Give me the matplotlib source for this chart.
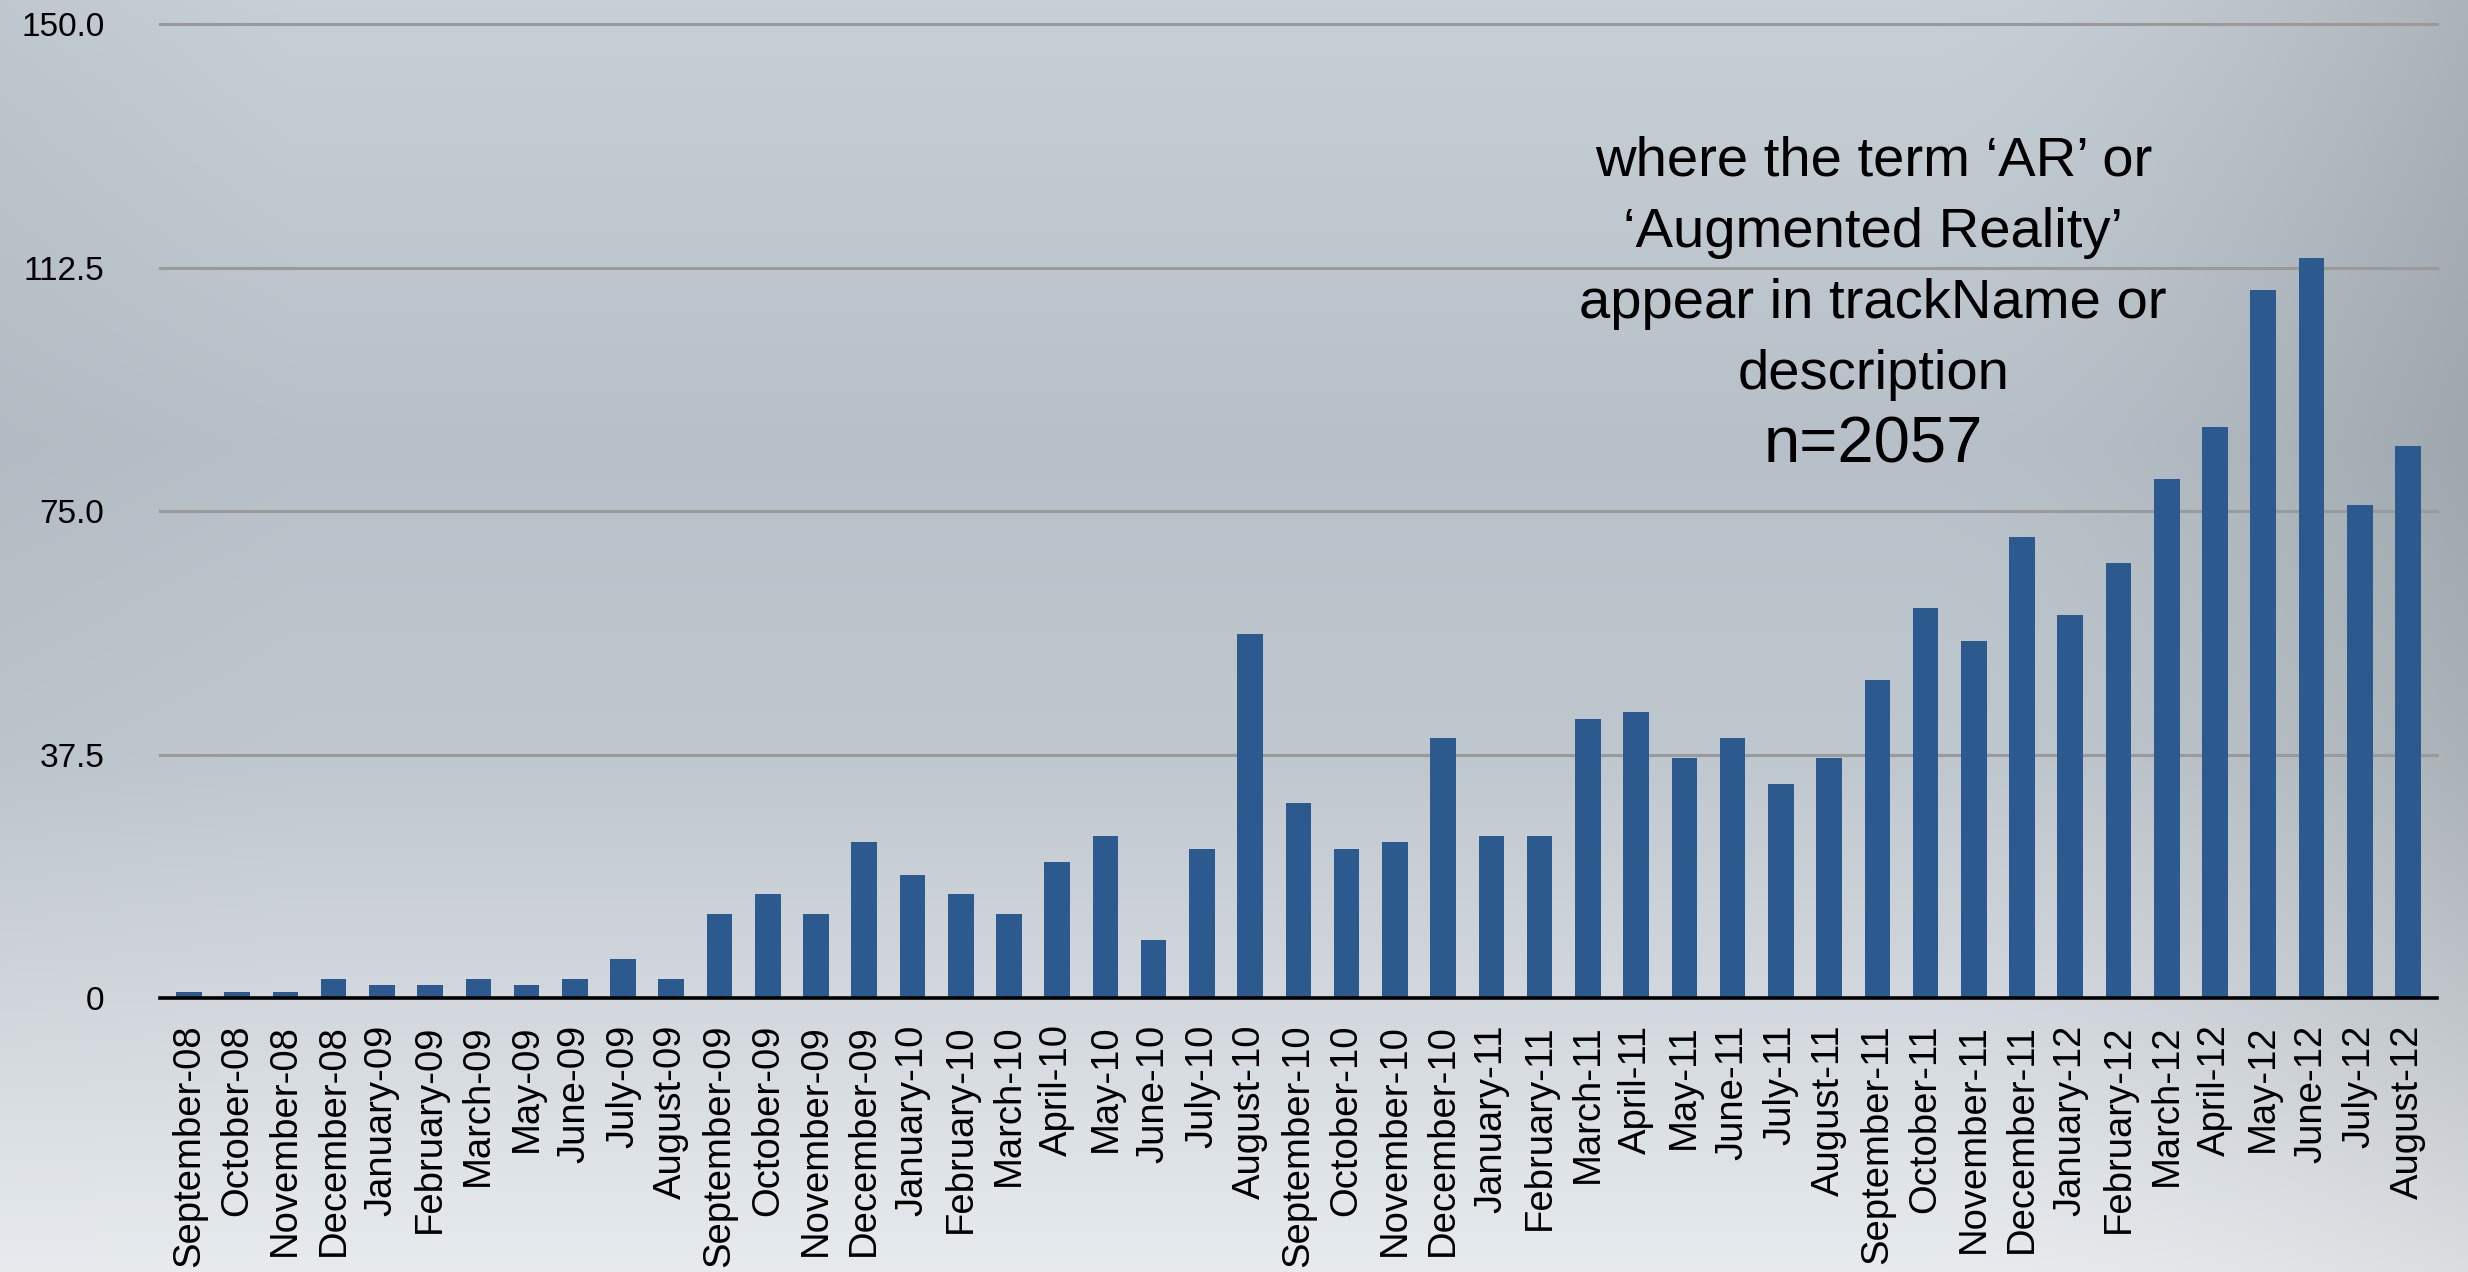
import numpy as np
import matplotlib
matplotlib.use("Agg")
import matplotlib.pyplot as plt

# monthly counts of apps
months = ["September-08", "October-08", "November-08", "December-08",
          "January-09", "February-09", "March-09", "May-09", "June-09",
          "July-09", "August-09", "September-09", "October-09",
          "November-09", "December-09", "January-10", "February-10",
          "March-10", "April-10", "May-10", "June-10", "July-10",
          "August-10", "September-10", "October-10", "November-10",
          "December-10", "January-11", "February-11", "March-11",
          "April-11", "May-11", "June-11", "July-11", "August-11",
          "September-11", "October-11", "November-11", "December-11",
          "January-12", "February-12", "March-12", "April-12", "May-12",
          "June-12", "July-12", "August-12"]
counts = [1, 1, 1, 3, 2, 2, 3, 2, 3, 6, 3,
          13, 16, 13, 24,
          19, 16, 13, 21, 25, 9, 23, 56, 30, 23, 24, 40,
          25, 25, 43, 44, 37, 40, 33, 37, 49, 60, 55, 71,
          59, 67, 80, 88, 109, 114, 76, 85]
yticks = [0, 37.5, 75.0, 112.5, 150.0]
ytick_labels = ["0", "37.5", "75.0", "112.5", "150.0"]

note = "where the term \u2018AR\u2019 or\n\u2018Augmented Reality\u2019\nappear in trackName or\ndescription"
n_label = "n=2057"

plt.rcParams["font.family"] = ["Liberation Sans", "DejaVu Sans"]

fig = plt.figure(figsize=(24.68, 12.72), dpi=100)

# backdrop gradient
h, w = 300, 600
yy, xx = np.mgrid[0:1:h * 1j, 0:1:w * 1j]
stops = np.array([0.0, 0.35, 0.6, 0.85, 1.0])
cols = np.array([[200, 208, 215], [183, 192, 200], [192, 200, 207],
                 [216, 221, 226], [231, 235, 238]]) / 255.0
img = np.zeros((h, w, 3))
for c in range(3):
    img[..., c] = np.interp(yy, stops, cols[:, c])
shade = 1 - 0.14 * np.clip((xx - 0.78) / 0.22, 0, 1) ** 1.6 * (1 - 0.6 * yy ** 2)
shade -= 0.04 * np.clip((0.12 - xx) / 0.12, 0, 1) * (1 - yy)
img *= shade[..., None]
bg = fig.add_axes([0, 0, 1, 1], zorder=0)
bg.imshow(np.clip(img, 0, 1), aspect="auto", extent=[0, 1, 0, 1])
bg.axis("off")

ax = fig.add_axes([0.0648, 0.2154, 0.9226, 0.7656], zorder=1)
ax.set_facecolor("none")
x = np.arange(len(months))
ax.bar(x, counts, width=0.53, color="#2d5a8e", zorder=3)

ax.set_xlim(-0.6, len(months) - 0.4)
ax.set_ylim(0, 150)
ax.set_yticks(yticks)
ax.set_yticklabels(ytick_labels)
ax.set_xticks(x)
ax.set_xticklabels(months, rotation=90)
ax.tick_params(axis="y", length=0, pad=40, labelsize=24)
ax.tick_params(axis="x", length=0, pad=19, labelsize=27.5)

for y in yticks[1:]:
    ax.axhline(y, color="#9a9a9a", linewidth=2.2, zorder=1, clip_on=False)

for s in ["top", "right", "left"]:
    ax.spines[s].set_visible(False)
ax.spines["bottom"].set_linewidth(2.6)
ax.spines["bottom"].set_color("black")
ax.spines["bottom"].set_zorder(4)

fig.text(0.759, 0.789, note, ha="center", va="center",
         fontsize=40.5, linespacing=1.48, color="black")
fig.text(0.759, 0.650, n_label, ha="center", va="center",
         fontsize=47, color="black")

fig.savefig("out.png", dpi=100)
